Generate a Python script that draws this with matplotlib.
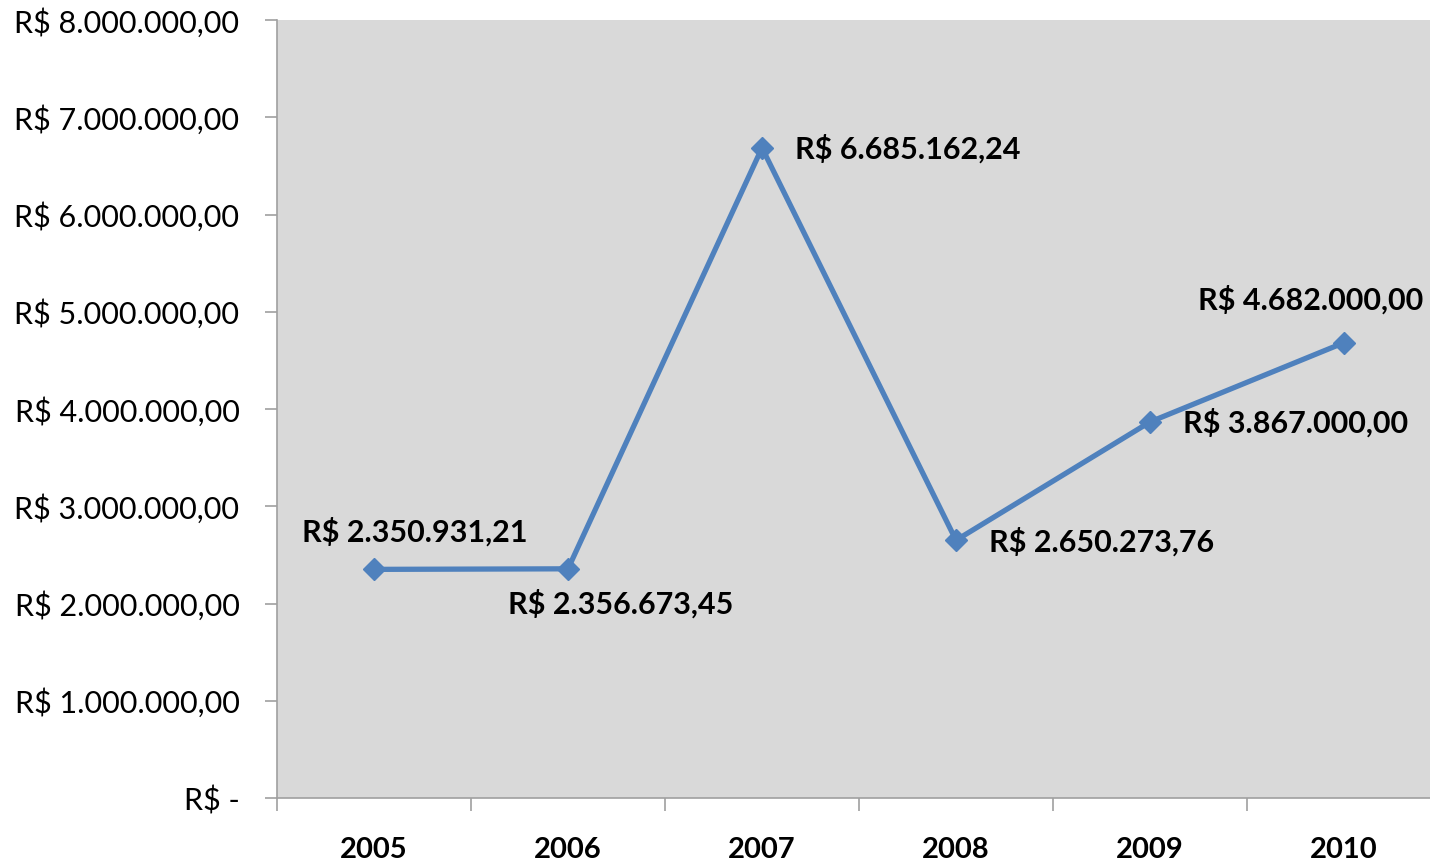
import matplotlib
matplotlib.use('Agg')
import matplotlib.pyplot as plt
from matplotlib.ticker import FuncFormatter

# Years and yearly values (R$)
years = ['2005', '2006', '2007', '2008', '2009', '2010']
values = [2350931.21, 2356673.45, 6685162.24, 2650273.76, 3867000.00, 4682000.00]

# Label offsets (points) relative to each marker, as placed in the original
label_offsets = [(29, 27), (38, -25), (24, -1), (24, -1), (24, -1), (-24, 31)]
label_align = ['center', 'center', 'left', 'left', 'left', 'center']


def brl(v):
    if v == 0:
        return 'R$ -'
    s = f'{v:,.2f}'
    s = s.replace(',', 'X').replace('.', ',').replace('X', '.')
    return 'R$ ' + s


plt.rcParams['font.family'] = ['Lato', 'DejaVu Sans']

fig = plt.figure(figsize=(14.3, 8.64), dpi=100)
ax = fig.add_axes([277 / 1430, 1 - 798 / 864, 1164 / 1430, 778 / 864])
ax.set_facecolor('#d9d9d9')

x = list(range(len(years)))
ax.plot(x, values, color='#4f81bd', linewidth=3.8, marker='D', markersize=11,
        markerfacecolor='#4f81bd', markeredgecolor='#4f81bd', zorder=3)

for i, v in enumerate(values):
    ax.annotate(brl(v), (i, v), xytext=label_offsets[i], textcoords='offset points',
                ha=label_align[i], va='center', fontsize=22, fontweight='bold',
                color='black')

ax.set_xlim(-0.5, 5.5)
ax.set_ylim(0, 8000000)
ax.set_yticks(range(0, 8000001, 1000000))
ax.yaxis.set_major_formatter(FuncFormatter(lambda v, p: brl(v)))

ax.set_xticks([i + 0.5 for i in range(-1, 5)])
ax.set_xticklabels([])
ax.set_xticks(x, minor=True)
ax.set_xticklabels(years, minor=True, fontsize=21, fontweight='bold')
ax.tick_params(axis='x', which='minor', length=0, pad=28)
ax.tick_params(axis='x', which='major', length=9, width=1.2, color='#a0a0a0', direction='out')
ax.tick_params(axis='y', length=9, width=1.2, color='#a0a0a0', labelsize=22, pad=18)

for s in ['top', 'right']:
    ax.spines[s].set_visible(False)
for s in ['left', 'bottom']:
    ax.spines[s].set_color('#a0a0a0')
    ax.spines[s].set_linewidth(1.2)

fig.savefig('out.png', dpi=100)
